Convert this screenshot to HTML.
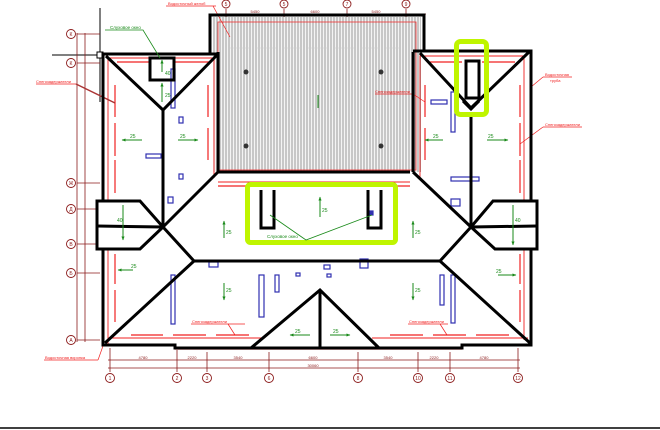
<!DOCTYPE html>
<html><head><meta charset="utf-8"><style>
html,body{margin:0;padding:0;background:#fff;width:660px;height:430px;overflow:hidden}
svg{display:block}
text{font-family:"Liberation Sans","DejaVu Sans",sans-serif}
</style></head><body>
<svg width="660" height="430" viewBox="0 0 660 430" xmlns="http://www.w3.org/2000/svg">
<defs>
<pattern id="hat" width="3" height="10" patternUnits="userSpaceOnUse">
<rect width="3" height="10" fill="#f4f4f4"/><line x1="1" y1="0" x2="1" y2="10" stroke="#9a9a9a" stroke-width="1"/>
</pattern>
<marker id="ar" viewBox="0 0 10 10" refX="9" refY="5" markerWidth="4" markerHeight="4" orient="auto"><path d="M0,1 L10,5 L0,9 z" fill="#1a8a1a"/></marker>
</defs>

<!-- hatched central roof -->
<rect x="213" y="17" width="208" height="155" fill="url(#hat)"/>
<rect x="218" y="22" width="198" height="148" fill="none" stroke="#f03030" stroke-width="0.8"/>
<line x1="230" y1="48" x2="400" y2="48" stroke="#ccc" stroke-width="0.6" stroke-dasharray="20 6"/>
<circle cx="246" cy="72" r="2.5" fill="#333"/><circle cx="246" cy="146" r="2.5" fill="#333"/>
<circle cx="381" cy="72" r="2.5" fill="#333"/><circle cx="381" cy="146" r="2.5" fill="#333"/>
<line x1="318" y1="95" x2="318" y2="108" stroke="#1a8a1a" stroke-width="1"/>

<!-- left crosshair -->
<g stroke="#000" stroke-width="1">
<line x1="100" y1="8" x2="100" y2="102"/><line x1="52" y1="55" x2="102" y2="55"/>
</g>
<rect x="97" y="52" width="6" height="6" fill="#fff" stroke="#000" stroke-width="1"/>

<!-- dimension lines (dark red) -->
<g stroke="#8b1a1a" stroke-width="0.8" fill="none">
<line x1="77" y1="33" x2="77" y2="342"/><line x1="85" y1="33" x2="85" y2="342"/>
<line x1="77" y1="34" x2="100" y2="34"/><line x1="77" y1="63" x2="100" y2="63"/>
<line x1="77" y1="183" x2="100" y2="183"/><line x1="77" y1="209" x2="96" y2="209"/>
<line x1="77" y1="244" x2="96" y2="244"/><line x1="77" y1="273" x2="100" y2="273"/>
<line x1="77" y1="340" x2="100" y2="340"/>
<line x1="108" y1="360" x2="520" y2="360"/><line x1="108" y1="368" x2="520" y2="368"/>
<line x1="110" y1="348" x2="110" y2="372"/><line x1="177" y1="350" x2="177" y2="372"/>
<line x1="207" y1="352" x2="207" y2="372"/><line x1="269" y1="352" x2="269" y2="372"/>
<line x1="358" y1="352" x2="358" y2="372"/><line x1="418" y1="352" x2="418" y2="372"/>
<line x1="450" y1="352" x2="450" y2="372"/><line x1="518" y1="348" x2="518" y2="372"/>
<line x1="212" y1="14" x2="426" y2="14"/>
<line x1="226" y1="9" x2="226" y2="17"/><line x1="284" y1="9" x2="284" y2="17"/>
<line x1="347" y1="9" x2="347" y2="17"/><line x1="406" y1="9" x2="406" y2="17"/>
</g>
<g fill="#fff" stroke="#8b1a1a" stroke-width="0.9">
<circle cx="71" cy="34" r="4.5"/><circle cx="71" cy="63" r="4.5"/><circle cx="71" cy="183" r="4.5"/>
<circle cx="71" cy="209" r="4.5"/><circle cx="71" cy="244" r="4.5"/><circle cx="71" cy="273" r="4.5"/>
<circle cx="71" cy="340" r="4.5"/>
<circle cx="110" cy="378" r="4.5"/><circle cx="177" cy="378" r="4.5"/><circle cx="207" cy="378" r="4.5"/>
<circle cx="269" cy="378" r="4.5"/><circle cx="358" cy="378" r="4.5"/><circle cx="418" cy="378" r="4.5"/>
<circle cx="450" cy="378" r="4.5"/><circle cx="518" cy="378" r="4.5"/>
<circle cx="226" cy="4" r="4"/><circle cx="284" cy="4" r="4"/><circle cx="347" cy="4" r="4"/><circle cx="406" cy="4" r="4"/>
</g>
<g fill="#8b1a1a" font-size="5" text-anchor="middle">
<text x="71" y="36">К</text><text x="71" y="65">К</text><text x="71" y="185">Ж</text><text x="71" y="211">Д</text>
<text x="71" y="246">В</text><text x="71" y="275">Б</text><text x="71" y="342">А</text>
<text x="110" y="380">1</text><text x="177" y="380">2</text><text x="207" y="380">3</text><text x="269" y="380">6</text>
<text x="358" y="380">8</text><text x="418" y="380">10</text><text x="450" y="380">11</text><text x="518" y="380">12</text>
<text x="226" y="6">5</text><text x="284" y="6">5</text><text x="347" y="6">7</text><text x="406" y="6">9</text>
<text x="143" y="359" font-size="4">4780</text><text x="192" y="359" font-size="4">2220</text><text x="238" y="359" font-size="4">3540</text>
<text x="313" y="359" font-size="4">6600</text><text x="388" y="359" font-size="4">3540</text><text x="434" y="359" font-size="4">2220</text>
<text x="484" y="359" font-size="4">4780</text><text x="313" y="367" font-size="4">30060</text>
<text x="255" y="13" font-size="4">5450</text><text x="315" y="13" font-size="4">6600</text><text x="376" y="13" font-size="4">5450</text>
</g>

<!-- inner red outlines -->
<g stroke="#f02020" stroke-width="0.9" fill="none">
<polyline points="108,57 108,200"/><polyline points="108,250 108,344"/>
<polyline points="110,58 214,58 214,178"/>
<polyline points="420,178 420,56 524,56 524,200"/>
<polyline points="524,250 524,340"/>
<line x1="108" y1="338" x2="262" y2="338"/><line x1="372" y1="338" x2="528" y2="338"/>
<line x1="103" y1="54" x2="210" y2="54" stroke-width="1.3"/><line x1="424" y1="51" x2="531" y2="51" stroke-width="1.3"/>
<line x1="531" y1="51" x2="531" y2="200" stroke-width="1.3"/><line x1="103" y1="250" x2="103" y2="345" stroke-width="1.3"/>
<line x1="175" y1="349" x2="462" y2="349" stroke-width="1.3"/>
<line x1="218" y1="182" x2="410" y2="182"/>
</g>
<!-- red dashes -->
<g stroke="#f02020" stroke-width="1.2">
<line x1="115" y1="85" x2="115" y2="117"/><line x1="115" y1="123" x2="115" y2="156"/><line x1="115" y1="160" x2="115" y2="193"/>
<line x1="208" y1="85" x2="208" y2="117"/><line x1="208" y1="128" x2="208" y2="160"/>
<line x1="115" y1="254" x2="115" y2="284"/><line x1="115" y1="290" x2="115" y2="322"/>
<line x1="520" y1="85" x2="520" y2="117"/><line x1="520" y1="123" x2="520" y2="156"/><line x1="520" y1="160" x2="520" y2="193"/>
<line x1="425" y1="85" x2="425" y2="117"/><line x1="425" y1="128" x2="425" y2="160"/>
<line x1="520" y1="254" x2="520" y2="284"/><line x1="520" y1="290" x2="520" y2="322"/>
<line x1="117" y1="62" x2="150" y2="62"/><line x1="175" y1="62" x2="210" y2="62"/>
<line x1="430" y1="62" x2="462" y2="62"/><line x1="482" y1="62" x2="515" y2="62"/>
<line x1="131" y1="335" x2="163" y2="335"/><line x1="173" y1="335" x2="206" y2="335"/><line x1="216" y1="335" x2="249" y2="335"/>
<line x1="390" y1="335" x2="423" y2="335"/><line x1="433" y1="335" x2="466" y2="335"/><line x1="476" y1="335" x2="509" y2="335"/>
<line x1="218" y1="186" x2="250" y2="186"/><line x1="285" y1="186" x2="318" y2="186"/><line x1="322" y1="186" x2="356" y2="186"/><line x1="386" y1="186" x2="410" y2="186"/>
</g>
<!-- red leaders & labels -->
<g stroke="#f02020" stroke-width="0.7" fill="none">
<line x1="36" y1="84" x2="76" y2="84"/><line x1="76" y1="84" x2="115" y2="103" stroke="#a33" stroke-width="1.5"/>
<line x1="166" y1="6" x2="216" y2="6"/><line x1="213" y1="6" x2="230" y2="37"/>
<line x1="375" y1="94" x2="413" y2="94"/><line x1="413" y1="94" x2="425" y2="102"/>
<line x1="543" y1="77" x2="572" y2="77"/><line x1="543" y1="77" x2="531" y2="87"/>
<line x1="543" y1="127" x2="582" y2="127"/><line x1="543" y1="127" x2="520" y2="144"/>
<line x1="191" y1="324" x2="245" y2="324"/><line x1="228" y1="324" x2="235" y2="335"/>
<line x1="408" y1="324" x2="448" y2="324"/><line x1="440" y1="324" x2="447" y2="335"/>
<line x1="44" y1="360" x2="98" y2="360"/><line x1="98" y1="360" x2="103" y2="346"/>
</g>
<g fill="#f02020" font-size="4">
<text x="36" y="83">Снегозадержатели</text><text x="168" y="5">Водосточный желоб</text>
<text x="375" y="93">Снегозадержатели</text><text x="545" y="76">Водосточная</text><text x="550" y="82">труба</text>
<text x="545" y="126">Снегозадержатели</text><text x="192" y="323">Снегозадержатели</text>
<text x="409" y="323">Снегозадержатели</text><text x="45" y="359">Водосточная воронка</text>
</g>

<!-- blue elements -->
<g fill="none" stroke="#3030b0" stroke-width="1.2">
<rect x="171" y="69" width="4" height="39"/><rect x="146" y="154" width="15" height="4"/>
<rect x="179" y="117" width="4" height="6"/><rect x="179" y="174" width="4" height="5"/><rect x="168" y="197" width="5" height="6"/>
<rect x="431" y="100" width="16" height="4"/><rect x="451" y="92" width="4" height="40"/>
<rect x="451" y="177" width="28" height="4"/><rect x="451" y="199" width="9" height="7"/>
<rect x="171" y="275" width="4" height="49"/><rect x="259" y="275" width="5" height="42"/><rect x="275" y="275" width="4" height="17"/>
<rect x="209" y="262" width="9" height="5"/><rect x="296" y="273" width="4" height="3"/><rect x="324" y="265" width="6" height="4"/><rect x="327" y="274" width="4" height="3"/>
<rect x="360" y="259" width="8" height="9"/><rect x="440" y="275" width="4" height="30"/><rect x="451" y="275" width="4" height="48"/>
<rect x="370" y="211" width="3" height="4" fill="#3030b0"/>
</g>

<!-- black roof lines -->
<g stroke="#000" stroke-width="3" fill="none" stroke-linejoin="miter">
<polyline points="210,53 210,15 424,15 424,52"/>
<polyline points="218,172 218,172 410,172"/>
<polyline points="413,52 413,172"/>
<polyline points="218,52 218,172"/>
<polyline points="103,200 103,54 218,54"/>
<polyline points="413,51 531,51 531,200"/>
<polyline points="103,250 103,345 175,345 175,348 462,348 462,345 531,345 531,249"/>
<polyline points="106,56 163,110 218,54"/>
<polyline points="420,53 471,108 529,52"/>
<line x1="163" y1="110" x2="163" y2="227"/>
<line x1="471" y1="116" x2="471" y2="227"/>
<line x1="218" y1="172" x2="163" y2="227"/>
<line x1="413" y1="172" x2="471" y2="227"/>
<polyline points="97,226 163,227 194,261 105,343"/>
<polyline points="537,226 471,227 440,261 530,343"/>
<line x1="194" y1="261" x2="440" y2="261"/>
<polyline points="163,227 140,201 97,201 97,249 140,249 163,227"/>
<polyline points="471,227 493,201 537,201 537,249 495,249 471,227"/>
<polyline points="251,348 320,290 379,348"/>
<line x1="320" y1="290" x2="320" y2="348"/>
<rect x="150" y="58" width="24" height="22"/>
<rect x="466" y="61" width="13" height="37"/>
<polyline points="463,101 471,109 479,101"/>
<polyline points="261,190 261,228 274,228 274,190"/>
<polyline points="368,190 368,228 381,228 381,190"/>
</g>

<!-- lime highlights -->
<rect x="456.5" y="41.5" width="30" height="73" rx="4" fill="none" stroke="#bff500" stroke-width="5"/>
<rect x="247.5" y="184.5" width="148" height="58" rx="3" fill="none" stroke="#bff500" stroke-width="5"/>

<!-- green labels -->
<g stroke="#1a8a1a" stroke-width="0.8" fill="none">
<polyline points="105,30 143,30 160,58"/>
<polyline points="270,215 306,240 372,215"/>
</g>
<g fill="#1a8a1a" font-size="4.5"><text x="110" y="29">Слуховое окно</text><text x="267" y="238">Слуховое окно</text></g>
<g stroke="#1a8a1a" stroke-width="1" marker-end="url(#ar)">
<line x1="142" y1="140" x2="122" y2="140"/><line x1="178" y1="140" x2="198" y2="140"/>
<line x1="443" y1="140" x2="425" y2="140"/><line x1="487" y1="140" x2="508" y2="140"/>
<line x1="162" y1="102" x2="162" y2="83"/><line x1="162" y1="72" x2="162" y2="60"/>
<line x1="224" y1="238" x2="224" y2="221"/><line x1="320" y1="217" x2="320" y2="197"/><line x1="413" y1="238" x2="413" y2="221"/>
<line x1="133" y1="270" x2="118" y2="270"/><line x1="498" y1="275" x2="516" y2="275"/>
<line x1="224" y1="283" x2="224" y2="300"/><line x1="413" y1="283" x2="413" y2="300"/>
<line x1="310" y1="335" x2="290" y2="335"/><line x1="330" y1="335" x2="350" y2="335"/>
<line x1="123" y1="205" x2="123" y2="240"/><line x1="513" y1="205" x2="513" y2="245"/>
</g>
<g fill="#1a8a1a" font-size="5">
<text x="130" y="138">25</text><text x="180" y="138">25</text><text x="433" y="138">25</text><text x="488" y="138">25</text>
<text x="131" y="268">25</text><text x="496" y="273">25</text><text x="295" y="333">25</text><text x="333" y="333">25</text>
<text x="165" y="97">25</text><text x="165" y="75">40</text><text x="117" y="222">40</text><text x="515" y="222">40</text>
<text x="226" y="234">25</text><text x="322" y="212">25</text><text x="415" y="234">25</text><text x="226" y="292">25</text><text x="415" y="292">25</text>
</g>

<line x1="0" y1="428" x2="660" y2="428" stroke="#000" stroke-width="1.5"/>
</svg>
</body></html>
